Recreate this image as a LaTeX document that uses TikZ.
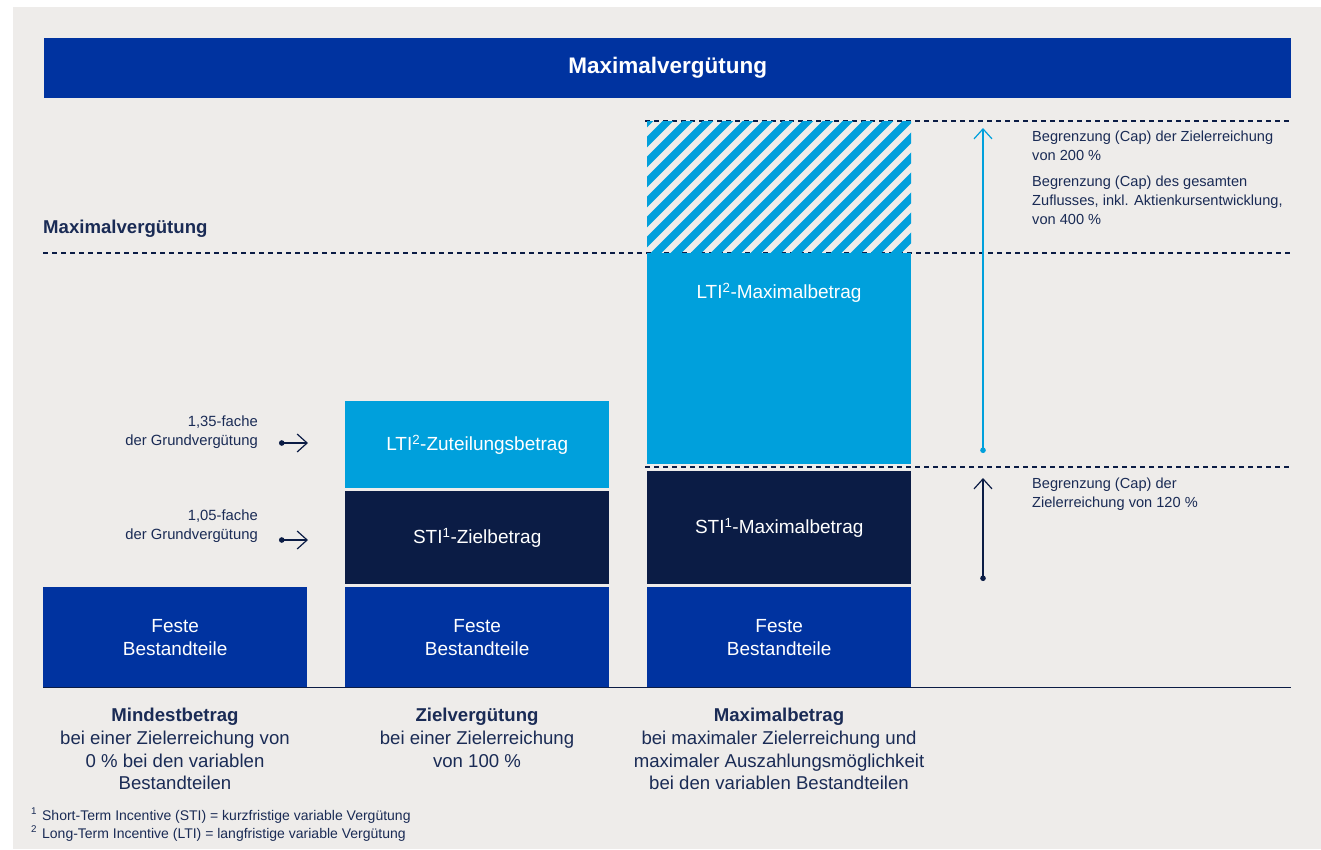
\documentclass[tikz,border=0pt]{standalone}
\usepackage{fontspec}
\setmainfont{Liberation Sans}
\usetikzlibrary{positioning,arrows.meta}

\definecolor{bggrey}{HTML}{EEECEA}
\definecolor{royal}{HTML}{0033A0}
\definecolor{navy}{HTML}{0B1C45}
\definecolor{sky}{HTML}{00A0DC}
\definecolor{ink}{HTML}{1A2B55}

\tikzset{
    bar/.style={inner sep=0pt, minimum width=264pt, anchor=north west, text=white,
        font=\fontsize{19}{23}\selectfont, align=center},
    fixbox/.style={bar, fill=royal, minimum height=100pt},
    stibox/.style={bar, fill=navy},
    ltibox/.style={bar, fill=sky},
    capline/.style={navy, dash pattern=on 5pt off 4pt, line width=1.1pt},
    note/.style={text=ink, font=\fontsize{14.6}{19}\selectfont, align=left, inner sep=0pt, anchor=north west},
    factor/.style={text=ink, font=\fontsize{14.8}{19}\selectfont, align=right, inner sep=0pt, anchor=north east},
    caption/.style={text=ink, font=\fontsize{18.6}{22.7}\selectfont, align=center, inner sep=0pt, anchor=north},
    pointer/.style={{Circle[length=5.5pt]}-{Straight Barb[length=10pt,width=18pt]}, line width=1.2pt},
}

\begin{document}
\begin{tikzpicture}[x=1pt, y=-1pt]
    \useasboundingbox (0,0) rectangle (1321,849);
    \fill[white] (0,0) rectangle (1321,849);
    \fill[bggrey] (13,7) rectangle (1321,849);

    % title
    \node[fill=royal, text=white, minimum width=1247pt, minimum height=60pt, inner sep=0pt, anchor=north west,
        font=\fontsize{22.5}{26}\selectfont\bfseries] (titlebar) at (44,38) {Maximalvergütung};
    \node[text=ink, inner sep=0pt, anchor=west, font=\fontsize{18.6}{22}\selectfont\bfseries] (maxhead) at (43,229) {Maximalvergütung};

    % cap lines
    \draw[capline] (645,121) -- (1291,121);
    \draw[capline] (43,253) -- (1291,253);
    \draw[capline] (645,467) -- (1291,467);

    % columns
    \foreach \x/\n in {43/min,345/ziel,647/max}
        \node[fixbox] (fest\n) at (\x,587) {Feste\\Bestandteile};
    \node[stibox, minimum height=93pt] (stiziel) at (345,491) {STI\textsuperscript{1}-Zielbetrag};
    \node[ltibox, minimum height=87pt] (ltiziel) at (345,401) {LTI\textsuperscript{2}-Zuteilungsbetrag};
    \node[stibox, minimum height=113pt] (stimax) at (647,471) {STI\textsuperscript{1}-Maximalbetrag};
    \node[ltibox, minimum height=211pt] (ltimax) at (647,253) {};
    \node[text=white, font=\fontsize{19}{23}\selectfont, inner sep=0pt] (ltimaxtext) at (779,293) {LTI\textsuperscript{2}-Maximalbetrag};

    % hatched cap area
    \begin{scope}
        \clip (647,121) rectangle (911,252);
        \foreach \k in {-8,...,14}
            \draw[sky, line width=7.5pt] ({647+(\k)*20},262) -- ++(150,-150);
    \end{scope}

    \draw[navy, line width=1pt] (43,687) -- (1291,687);

    % factors
    \node[factor] (f135) at (258,416) {1,35-fache\\der Grundvergütung};
    \node[factor] (f105) at (258,510) {1,05-fache\\der Grundvergütung};
    \coordinate (dot135) at (279,443);
    \coordinate (tip135) at (308,443);
    \coordinate (dot105) at (279,540);
    \coordinate (tip105) at (308,540);
    \draw[pointer, navy] (dot135) -- (tip135);
    \draw[pointer, navy] (dot105) -- (tip105);

    % caps on the right
    \coordinate (ltidot) at (983,453);
    \coordinate (ltitip) at (983,128);
    \coordinate (stidot) at (983,581);
    \coordinate (stitip) at (983,478);
    \draw[pointer, sky] (ltidot) -- (ltitip);
    \draw[pointer, navy] (stidot) -- (stitip);
    \node[note] (cap200) at (1032,131) {Begrenzung (Cap) der Zielerreichung\\von 200~\%};
    \node[note] (cap400) at (1032,176) {Begrenzung (Cap) des gesamten\\Zuflusses, inkl. Aktienkursentwicklung,\\von 400~\%};
    \node[note] (cap120) at (1032,478) {Begrenzung (Cap) der\\Zielerreichung von 120~\%};

    % captions
    \node[caption] (capmin) at (175,708) {\textbf{Mindestbetrag}\\bei einer Zielerreichung von\\0~\% bei den variablen\\Bestandteilen};
    \node[caption] (capziel) at (477,708) {\textbf{Zielvergütung}\\bei einer Zielerreichung\\von 100~\%};
    \node[caption] (capmax) at (779,708) {\textbf{Maximalbetrag}\\bei maximaler Zielerreichung und\\maximaler Auszahlungsmöglichkeit\\bei den variablen Bestandteilen};

    % footnotes
    \node[text=ink, font=\fontsize{14}{18}\selectfont, align=left, inner sep=0pt, anchor=north west] (notes) at (31,808)
        {\textsuperscript{1}\hspace{5pt}Short-Term Incentive (STI) = kurzfristige variable Vergütung\\
         \textsuperscript{2}\hspace{5pt}Long-Term Incentive (LTI) = langfristige variable Vergütung};
\end{tikzpicture}
\end{document}
